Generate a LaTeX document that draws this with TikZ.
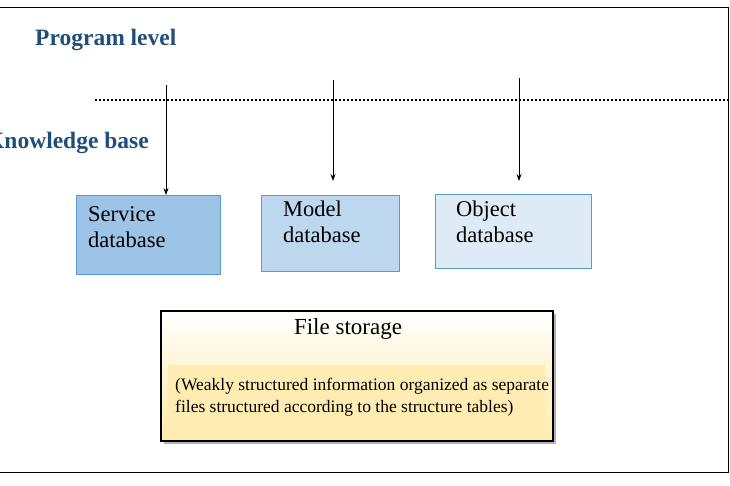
\documentclass[tikz,border=0pt]{standalone}
\usepackage{fontspec}
\setmainfont{Liberation Serif}
\usetikzlibrary{arrows.meta}
\definecolor{lbl}{HTML}{1F4E79}
\definecolor{c1}{HTML}{9DC3E6}\definecolor{c2}{HTML}{BDD7EE}\definecolor{c3}{HTML}{DEEBF7}\definecolor{bd}{HTML}{5B9BD5}
\definecolor{y1}{HTML}{FFE699}
\begin{document}
\begin{tikzpicture}[x=1pt,y=-1pt,
  dbox/.style={draw=bd, fill=#1, line width=0.8pt, anchor=north west, inner sep=0},
  txt/.style={font=\fontsize{22.5}{26}\selectfont, align=left, anchor=north west, inner sep=0},
  lab/.style={font=\fontsize{23.5}{28}\selectfont\bfseries, text=lbl, anchor=west, inner sep=0},
  arr/.style={-{Stealth[length=7pt,width=5pt]}, line width=0.8pt}]
\useasboundingbox (0,0) rectangle (730,486);
\draw[line width=1pt] (-5,8) -- (728,8) -- (728,472) -- (-5,472);
\node[lab] (pl) at (35,40) {Program level};
\node[lab] (kb) at (-14,143) {Knowledge base};
\coordinate (d1) at (95,100); \coordinate (d2) at (730,100);
\draw[line width=2pt, dotted] (d1) -- (d2);
\node[dbox=c1, minimum width=144, minimum height=79] (s) at (76,195) {};
\node[dbox=c2, minimum width=138, minimum height=76] (m) at (261,195) {};
\node[dbox=c3, minimum width=156, minimum height=74] (o) at (435,194) {};
\node[txt] (st) at (88,206) {Service\\database};
\node[txt] (mt) at (283,201) {Model\\database};
\node[txt] (ot) at (456,201) {Object\\database};
\coordinate (a1) at (166,85); \coordinate (a2) at (333,80); \coordinate (a3) at (519,78);
\draw[arr] (a1) -- (s.north -| a1);
\draw[arr] (a2) -- (333,181);
\draw[arr] (a3) -- (519,181);
\fill[gray!60] (164,314) rectangle (556,444);
\node[draw=black, line width=1.5pt, top color=white, bottom color=y1!80, middle color=y1!45, minimum width=392, minimum height=130, anchor=north west, inner sep=0] (f) at (160,310) {};
\fill[y1!75] (168,365) rectangle (545,432);
\node[font=\fontsize{23}{26}\selectfont, inner sep=0] (ft) at (348,329) {File storage};
\node[font=\fontsize{17.5}{22}\selectfont, align=left, anchor=north west, inner sep=0] (fd) at (175,378) {(Weakly structured information organized as separate\\files structured according to the structure tables)};
\end{tikzpicture}
\end{document}
